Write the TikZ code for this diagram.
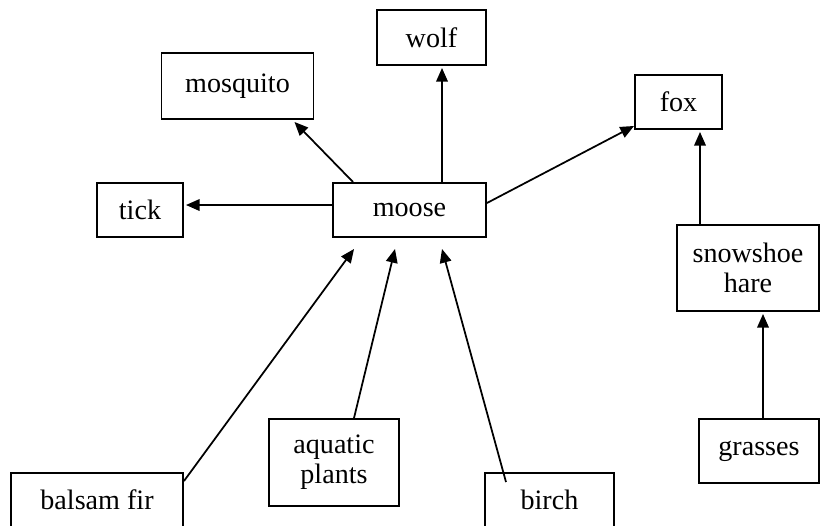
\documentclass[tikz,border=0pt]{standalone}
\usepackage{fontspec}
\setmainfont{Liberation Serif}
\usetikzlibrary{arrows.meta, calc, positioning}

\begin{document}
\begin{tikzpicture}[
        x=0.02cm, y=-0.02cm,
        smallbox/.style={draw, line width=1.1pt, inner sep=0pt, align=center, font=\fontsize{16}{17}\selectfont},
        arrow/.style={-{Triangle[length=7.8pt, width=6.6pt]}, line width=1pt}
    ]
        \useasboundingbox (0,0) rectangle (821,525);
        \clip (0,0) rectangle (821,525);

        \node[smallbox, minimum width=0.02cm*153, minimum height=0.02cm*54] (moose) at (409.5,210) {moose};
        \node[smallbox, minimum width=0.02cm*109, minimum height=0.02cm*55] (wolf) at (431.5,37.5) {wolf};
        \node[smallbox, minimum width=0.02cm*152, minimum height=0.02cm*66] (mosquito) at (237.5,86) {mosquito};
        \node[smallbox, minimum width=0.02cm*86, minimum height=0.02cm*54] (tick) at (140,210) {tick};
        \node[smallbox, minimum width=0.02cm*87, minimum height=0.02cm*54] (fox) at (678.5,102) {fox};
        \node[smallbox, minimum width=0.02cm*142, minimum height=0.02cm*86] (hare) at (748,268) {snowshoe\\hare};
        \node[smallbox, minimum width=0.02cm*120, minimum height=0.02cm*64] (grasses) at (759,451) {grasses};
        \node[smallbox, minimum width=0.02cm*130, minimum height=0.02cm*87] (aquatic) at (334,462.5) {aquatic\\plants};

        % these two run past the bottom edge
        \node[smallbox, minimum width=0.02cm*172, minimum height=0.02cm*54] (fir) at (97,500) {balsam fir};
        \node[smallbox, minimum width=0.02cm*129, minimum height=0.02cm*54] (birch) at (549.5,500) {birch};

        \draw[arrow] ($(moose.west)+(0,-5)$) -- ($(tick.east)+(2,-5)$);
        \draw[arrow] ($(moose.north west)+(21,0)$) -- ($(mosquito.south east)+(-20,2)$);
        \draw[arrow] ($(moose.north)+(32.5,0)$) -- ($(wolf.south)+(10.5,2)$);
        \draw[arrow] ($(moose.east)+(0,-7)$) -- ($(fox.south west)+(0,-4)$);
        \draw[arrow] ($(hare.north)+(-48,0)$) -- ($(fox.south)+(21.5,2)$);
        \draw[arrow] ($(grasses.north)+(4,0)$) -- ($(hare.south)+(15,2)$);

        % food plants of the moose
        \draw[arrow] ($(fir.north east)+(0,9)$) -- ($(moose.south west)+(22,11)$);
        \draw[arrow] ($(aquatic.north)+(20,0)$) -- ($(moose.south)+(-14.5,11)$);
        \draw[arrow] ($(birch.north)+(-43.5,10)$) -- ($(moose.south)+(32.5,11)$);
    \end{tikzpicture}
\end{document}
